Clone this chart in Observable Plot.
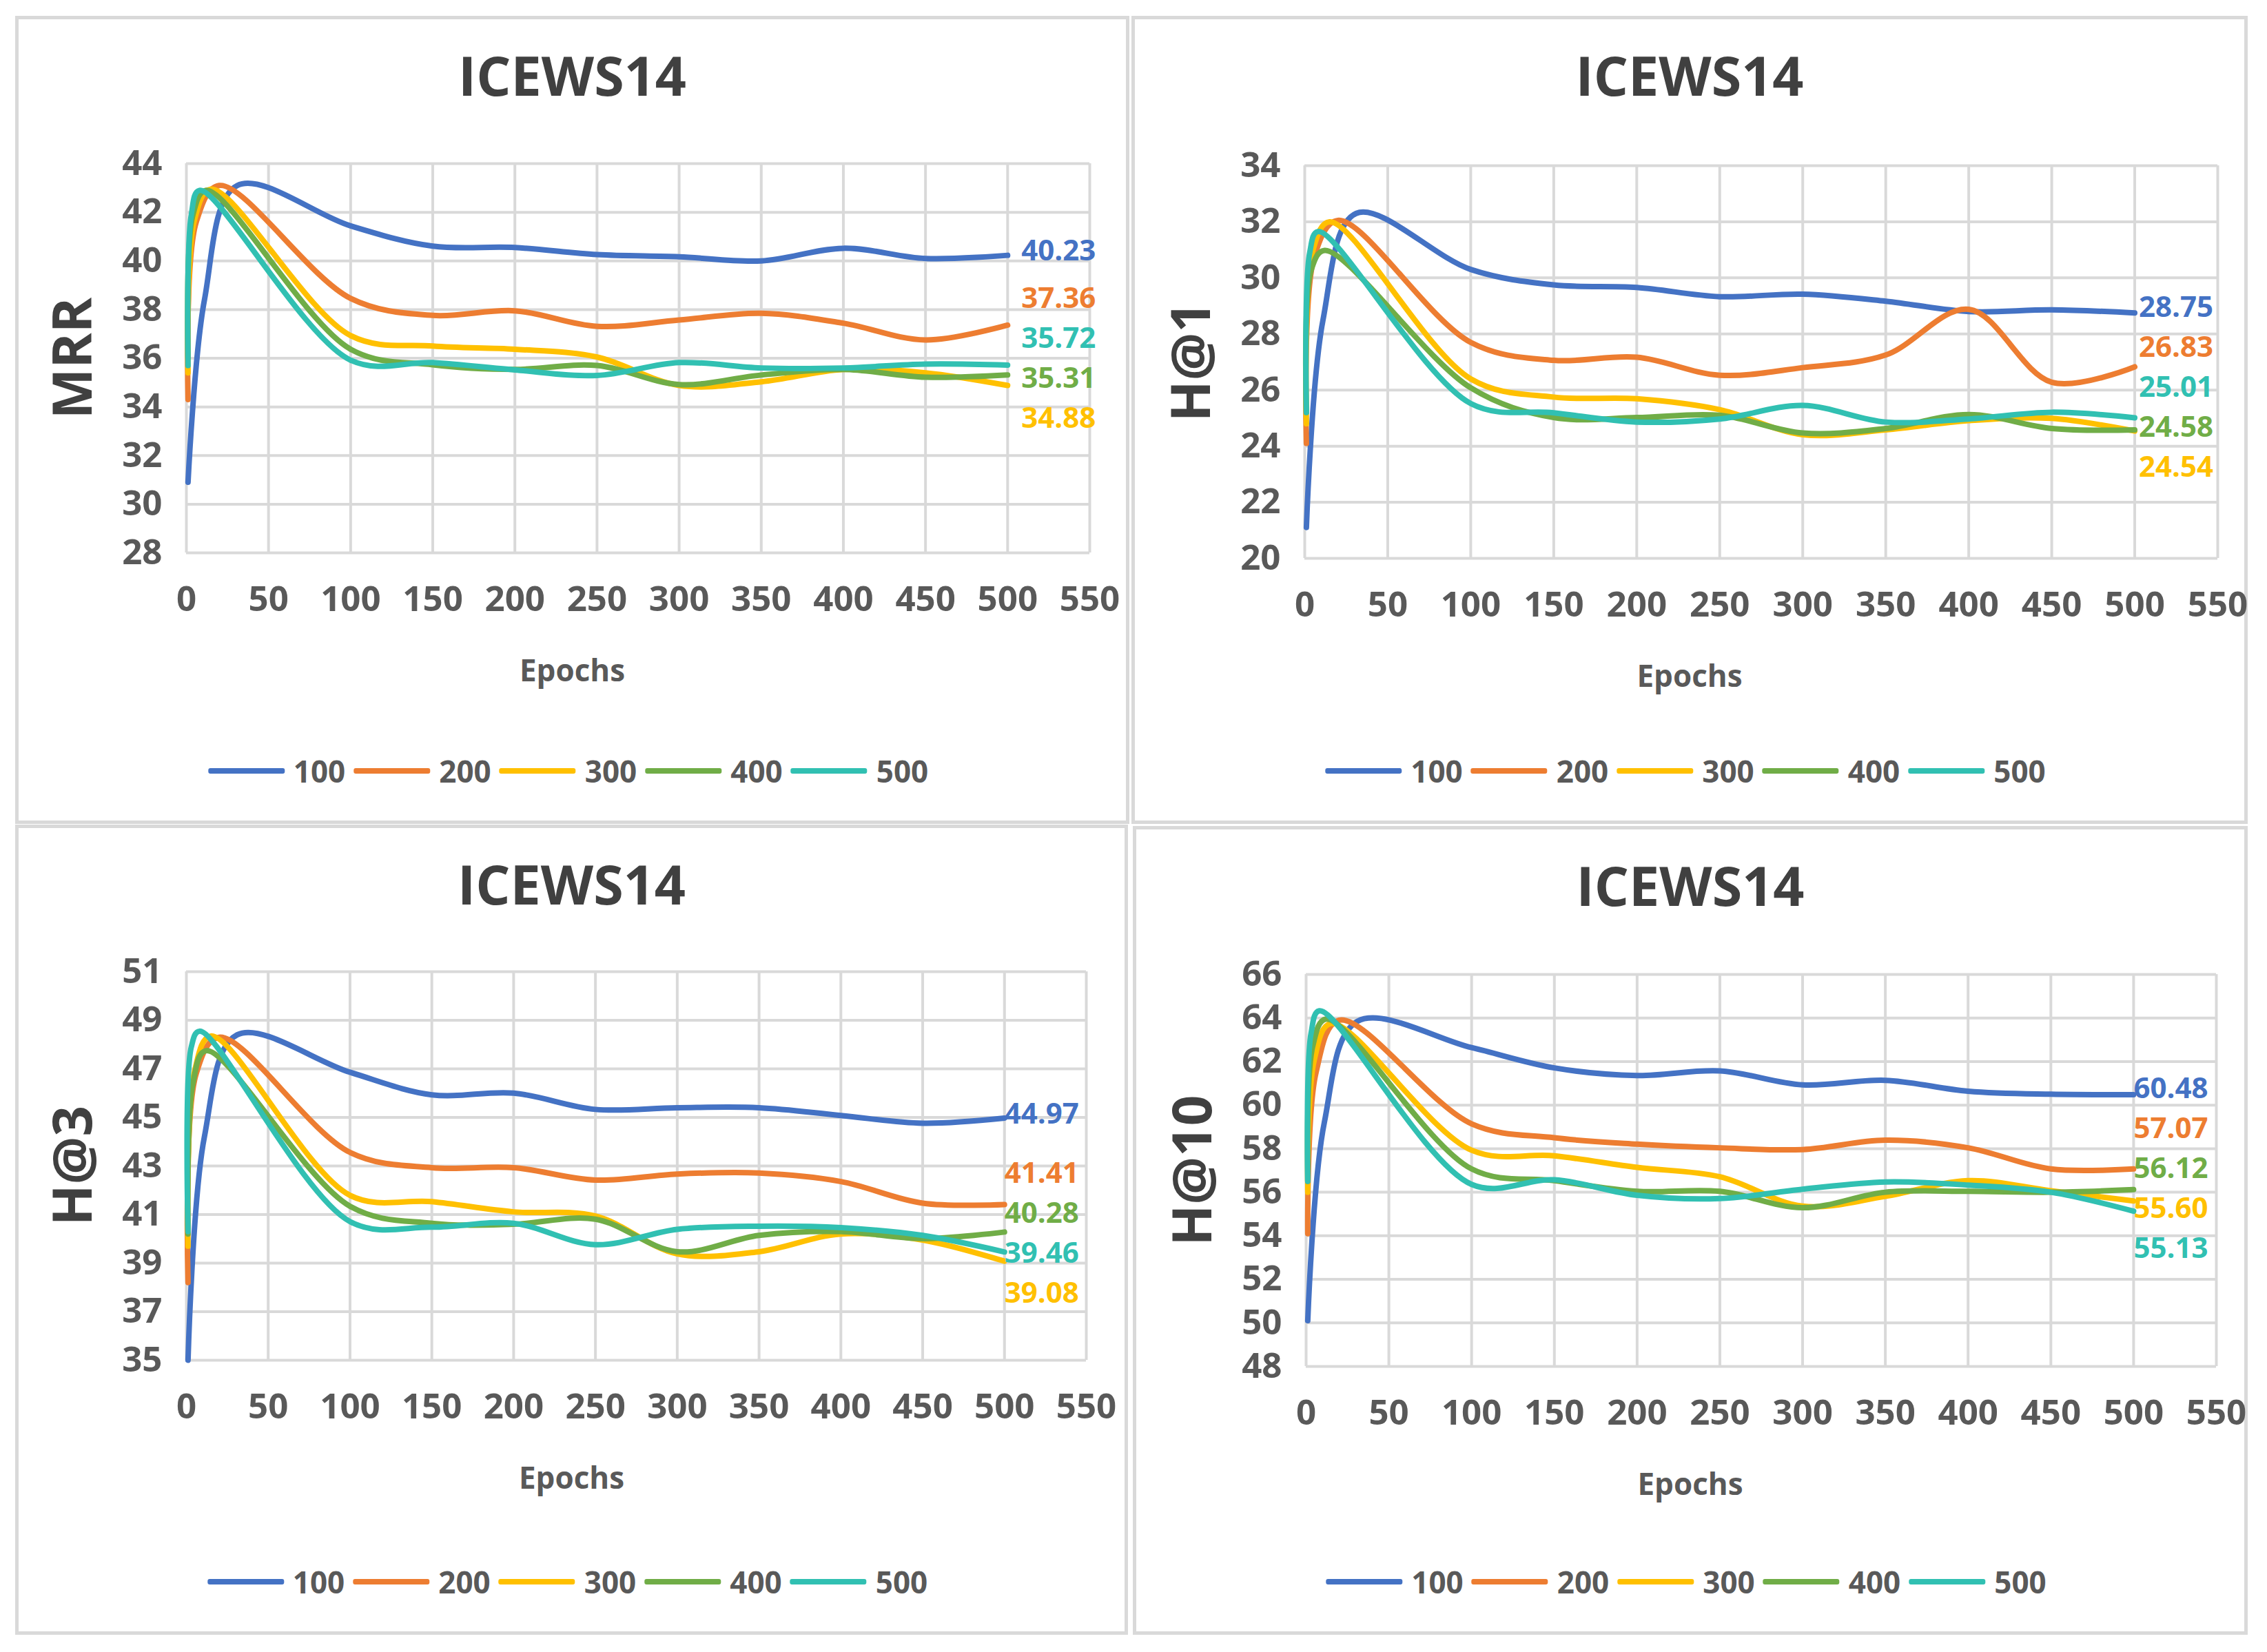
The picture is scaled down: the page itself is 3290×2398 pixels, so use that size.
<!DOCTYPE html>
<html><head><meta charset="utf-8">
<script src="https://cdn.jsdelivr.net/npm/d3@7"></script>
<script src="https://cdn.jsdelivr.net/npm/@observablehq/plot@0.6"></script>
<style>
html,body{margin:0;padding:0;background:#fff;}
#root{position:relative;width:3290px;height:2398px;background:#fff;overflow:hidden;font-family:"Open Sans",sans-serif;}
.box{position:absolute;box-sizing:border-box;border:5px solid #d9d9d9;background:#fff;}
.txt{position:absolute;white-space:nowrap;font-weight:700;}
.leg{position:absolute;display:flex;align-items:center;white-space:nowrap;font-weight:700;color:#595959;font-size:44px;line-height:44px;height:44px;transform:translateX(-50%);}
.sw{display:inline-block;width:111px;height:8px;border-radius:3px;margin-right:13px;}
.lab{margin-right:12px;}
svg{position:absolute;}
</style></head><body><div id="root"></div>
<script>
// ---------------- data ----------------
const title = "ICEWS14";
const xLabel = "Epochs";
const seriesNames = ["100", "200", "300", "400", "500"];
const seriesColors = ["#4472C4", "#ED7D31", "#FFC000", "#70AD47", "#31C0B2"];
const xTicks = [0, 50, 100, 150, 200, 250, 300, 350, 400, 450, 500, 550];
// early (warm-up) epochs per series, then the common evaluation epochs
const earlyEpochs = [[1, 11, 31], [1, 6, 20], [1, 5, 15], [1, 4, 12], [1, 3, 8]];
const lateEpochs = [100, 150, 200, 250, 300, 350, 400, 450, 500];

const mrrTicks = [28, 30, 32, 34, 36, 38, 40, 42, 44];
const mrrValues = [
  [30.9, 38.4, 43.1, 41.44, 40.61, 40.55, 40.26, 40.17, 40.0, 40.52, 40.1, 40.23],
  [34.3, 41.6, 43.1, 38.46, 37.76, 37.95, 37.31, 37.57, 37.85, 37.44, 36.75, 37.36],
  [35.4, 41.7, 42.95, 36.93, 36.5, 36.37, 36.05, 34.88, 35.03, 35.54, 35.4, 34.88],
  [36.0, 41.9, 42.9, 36.37, 35.73, 35.54, 35.7, 34.92, 35.31, 35.54, 35.22, 35.31],
  [35.7, 41.9, 42.9, 35.92, 35.82, 35.52, 35.29, 35.82, 35.6, 35.6, 35.76, 35.72]
];

const h1Ticks = [20, 22, 24, 26, 28, 30, 32, 34];
const h1Values = [
  [21.1, 28.5, 32.3, 30.3, 29.75, 29.66, 29.33, 29.42, 29.17, 28.8, 28.86, 28.75],
  [24.1, 30.8, 32.05, 27.7, 27.06, 27.17, 26.53, 26.8, 27.25, 28.88, 26.28, 26.83],
  [24.8, 31.0, 32.0, 26.4, 25.75, 25.69, 25.3, 24.41, 24.58, 24.91, 24.99, 24.54],
  [25.2, 30.3, 30.98, 26.08, 25.02, 25.02, 25.1, 24.47, 24.63, 25.13, 24.63, 24.58],
  [25.2, 30.9, 31.65, 25.52, 25.19, 24.86, 24.97, 25.45, 24.86, 24.97, 25.21, 25.01]
];

const h3Ticks = [35, 37, 39, 41, 43, 45, 47, 49, 51];
const h3Values = [
  [35.0, 44.2, 48.4, 46.86, 45.93, 46.0, 45.33, 45.4, 45.4, 45.08, 44.76, 44.97],
  [38.2, 46.8, 48.3, 43.56, 42.93, 42.93, 42.42, 42.67, 42.71, 42.36, 41.47, 41.41],
  [39.7, 46.9, 48.35, 41.79, 41.53, 41.11, 40.94, 39.38, 39.47, 40.2, 39.95, 39.08],
  [40.2, 46.4, 47.75, 41.34, 40.64, 40.6, 40.81, 39.47, 40.14, 40.3, 40.01, 40.28],
  [40.3, 47.9, 48.55, 40.71, 40.48, 40.64, 39.76, 40.39, 40.52, 40.46, 40.14, 39.46]
];

const h10Ticks = [48, 50, 52, 54, 56, 58, 60, 62, 64, 66];
const h10Values = [
  [50.1, 59.2, 63.85, 62.64, 61.71, 61.36, 61.57, 60.93, 61.14, 60.64, 60.5, 60.48],
  [54.1, 61.5, 63.9, 59.14, 58.5, 58.21, 58.04, 57.96, 58.39, 58.04, 57.07, 57.07],
  [56.0, 62.1, 63.75, 57.93, 57.67, 57.14, 56.71, 55.36, 55.81, 56.53, 56.07, 55.6],
  [56.5, 62.7, 63.95, 57.07, 56.53, 56.04, 56.04, 55.29, 56.0, 56.04, 56.0, 56.12],
  [56.5, 63.3, 64.33, 56.36, 56.57, 55.86, 55.71, 56.14, 56.47, 56.33, 56.0, 55.13]
];

// ---------------- layout ----------------
const panels = [
  {metric: "MRR", ticks: mrrTicks, values: mrrValues, box: [22, 23, 1617, 1173], plot: [270, 237, 1311, 565], labelDx: 20},
  {metric: "H@1", ticks: h1Ticks, values: h1Values, box: [1642, 23, 1620, 1173], plot: [1893, 240, 1325, 570], labelDx: 6},
  {metric: "H@3", ticks: h3Ticks, values: h3Values, box: [22, 1197, 1615, 1176], plot: [270, 1410, 1306, 564], labelDx: 0},
  {metric: "H@10", ticks: h10Ticks, values: h10Values, box: [1644, 1199, 1618, 1174], plot: [1895, 1414, 1321, 569], labelDx: 0}
];

const root = document.getElementById("root");

function addText(str, x, capY, size, color, rotate) {
  const d = document.createElement("div");
  d.className = "txt";
  d.textContent = str;
  d.style.fontSize = size + "px";
  d.style.lineHeight = size + "px";
  d.style.color = color;
  d.style.left = x + "px";
  if (rotate) {
    d.style.top = capY + "px";
    d.style.transform = "translate(-50%,-50%) rotate(-90deg)";
  } else {
    d.style.top = (capY - 0.532 * size) + "px";
    d.style.transform = "translateX(-50%)";
  }
  root.appendChild(d);
}

// spread label pixel positions so they don't overlap
function spread(ys, gap) {
  const clusters = [];
  ys.forEach(y => {
    clusters.push({sum: y, n: 1, start: y});
    while (clusters.length > 1) {
      const b = clusters[clusters.length - 1], a = clusters[clusters.length - 2];
      if (a.start + a.n * gap > b.start) {
        const n = a.n + b.n, sum = a.sum + b.sum;
        clusters.splice(clusters.length - 2, 2, {sum, n, start: sum / n - (n - 1) * gap / 2});
      } else break;
    }
  });
  const out = [];
  clusters.forEach(c => { for (let k = 0; k < c.n; k++) out.push(c.start + k * gap); });
  return out;
}

panels.forEach(p => {
  const [bx, by, bw, bh] = p.box;
  const [px, py, pw, ph] = p.plot;
  const box = document.createElement("div");
  box.className = "box";
  Object.assign(box.style, {left: bx + "px", top: by + "px", width: bw + "px", height: bh + "px"});
  root.appendChild(box);

  const cx = bx + bw / 2;
  addText(title, cx, by + 88, 79, "#404040", false);
  addText(p.metric, px - 167, py + ph / 2, 78, "#404040", true);
  addText(xLabel, cx, py + ph + 171, 44, "#595959", false);

  // legend
  const leg = document.createElement("div");
  leg.className = "leg";
  leg.style.left = cx + "px";
  leg.style.top = (by + bh - 77 - 22) + "px";
  seriesNames.forEach((s, i) => {
    const sw = document.createElement("span");
    sw.className = "sw";
    sw.style.background = seriesColors[i];
    const lb = document.createElement("span");
    lb.className = "lab";
    lb.textContent = s;
    leg.appendChild(sw);
    leg.appendChild(lb);
  });
  root.appendChild(leg);

  // rows
  const rows = [];
  seriesNames.forEach((s, i) => {
    const ep = earlyEpochs[i].concat(lateEpochs);
    p.values[i].forEach((v, j) => rows.push({series: s, epoch: ep[j], value: v}));
  });

  // end labels, positioned in data units after spreading
  const yDomain = [p.ticks[0], p.ticks[p.ticks.length - 1]];
  const yPix = d3.scaleLinear(yDomain, [py + ph, py]);
  const ends = seriesNames.map((s, i) => {
    const vals = p.values[i];
    return {series: s, epoch: lateEpochs[lateEpochs.length - 1], value: vals[vals.length - 1]};
  }).sort((a, b) => b.value - a.value);
  const spreadY = spread(ends.map(e => yPix(e.value) - 6), 58);
  ends.forEach((e, k) => { e.ly = yPix.invert(spreadY[k]); e.label = e.value.toFixed(2); });

  const svgLeft = bx + 5, svgTop = py - 30;
  const svgW = bw - 10, svgH = ph + 30 + 120;
  const marginLeft = px - svgLeft;
  const marginRight = svgW - marginLeft - pw;

  const chart = Plot.plot({
    width: svgW,
    height: svgH,
    marginLeft, marginRight, marginTop: 30, marginBottom: 120,
    x: {domain: [0, 550], axis: null},
    y: {domain: yDomain, axis: null},
    color: {domain: seriesNames, range: seriesColors},
    style: {fontFamily: "Open Sans", fontWeight: "bold", background: "transparent", color: "#595959", overflow: "visible"},
    marks: [
      Plot.gridX(xTicks, {stroke: "#d9d9d9", strokeOpacity: 1, strokeWidth: 4}),
      Plot.gridY(p.ticks, {stroke: "#d9d9d9", strokeOpacity: 1, strokeWidth: 4}),
      Plot.axisX(xTicks, {tickSize: 0, tickPadding: 48, fontSize: 51, fontWeight: "bold", fill: "#595959", label: null}),
      Plot.axisY(p.ticks, {tickSize: 0, tickPadding: 35, fontSize: 51, fontWeight: "bold", fill: "#595959", label: null}),
      Plot.line(rows, {x: "epoch", y: "value", z: "series", stroke: "series", strokeWidth: 8, curve: "catmull-rom", strokeLinecap: "round", strokeLinejoin: "round"}),
      Plot.text(ends, {x: "epoch", y: "ly", text: "label", fill: "series", fontSize: 42, fontWeight: "bold", textAnchor: "start", dx: p.labelDx})
    ]
  });
  chart.style.left = svgLeft + "px";
  chart.style.top = svgTop + "px";
  chart.style.position = "absolute";
  chart.style.maxWidth = "none";
  root.appendChild(chart);
});
</script></body></html>
